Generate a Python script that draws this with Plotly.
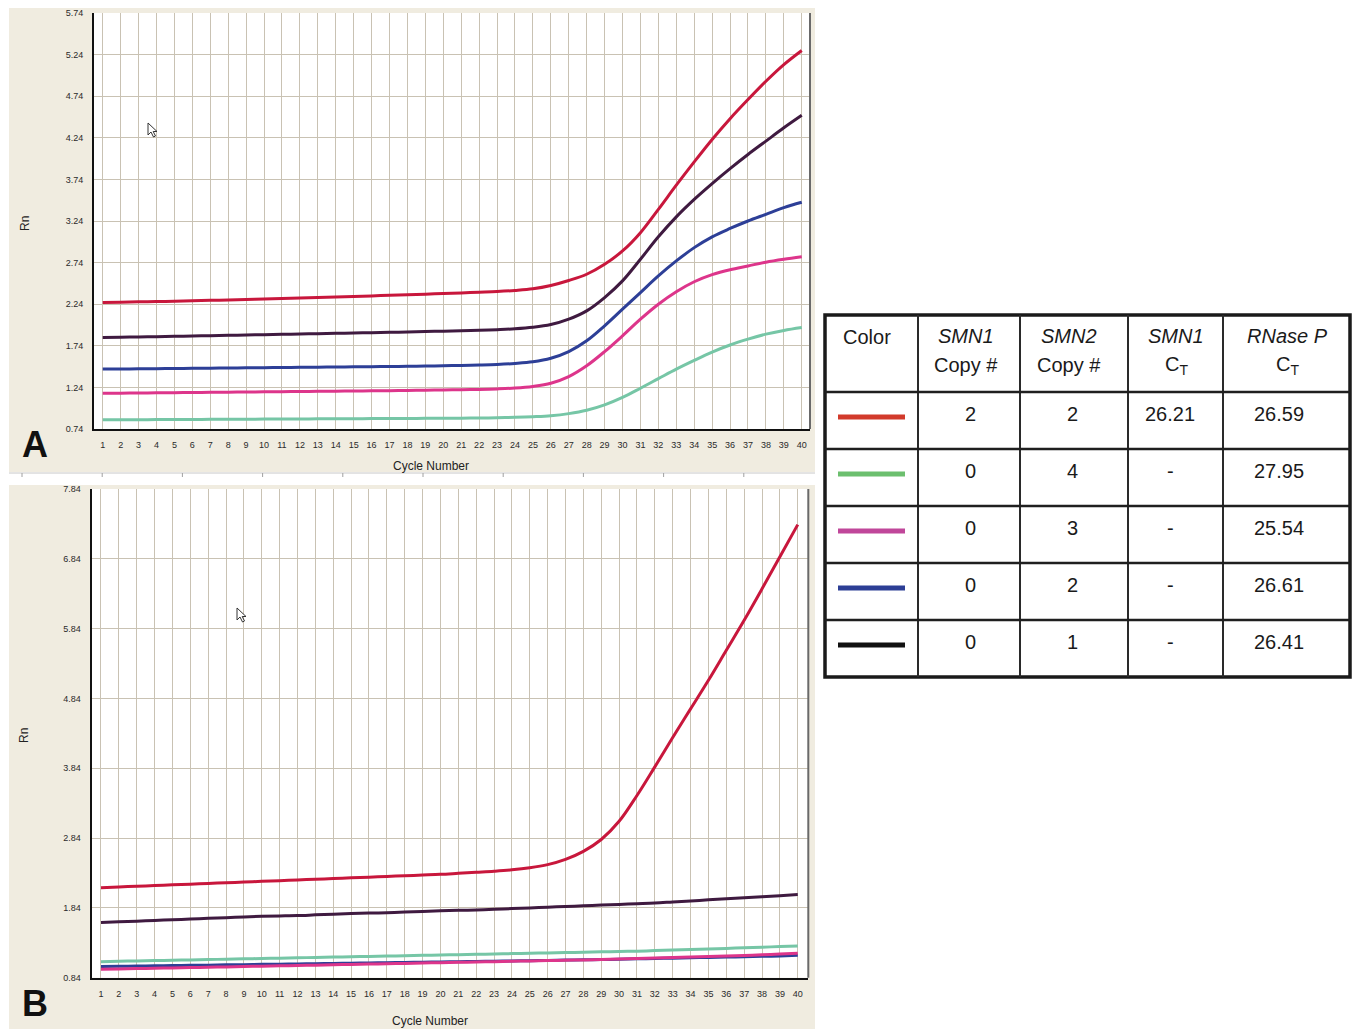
import plotly.graph_objects as go

W, H = 1355, 1029

cycles = list(range(1, 41))
cycle_labels = [str(c) for c in cycles]

# Panel A: SMN1 (2 copies) + SMN2 copy-number samples, Rn vs cycle
a_red = [2.26, 2.264, 2.268, 2.272, 2.276, 2.281, 2.286, 2.291, 2.296, 2.302,
         2.308, 2.314, 2.320, 2.326, 2.333, 2.340, 2.347, 2.354, 2.361, 2.368,
         2.376, 2.384, 2.392, 2.405, 2.425, 2.465, 2.525, 2.60, 2.72, 2.88,
         3.10, 3.38, 3.67, 3.95, 4.22, 4.47, 4.70, 4.92, 5.12, 5.29]
a_purple = [1.84, 1.843, 1.846, 1.850, 1.854, 1.858, 1.862, 1.866, 1.870, 1.874,
            1.878, 1.882, 1.886, 1.890, 1.894, 1.898, 1.902, 1.906, 1.911, 1.916,
            1.921, 1.927, 1.934, 1.944, 1.962, 1.995, 2.06, 2.16, 2.32, 2.52,
            2.78, 3.05, 3.29, 3.50, 3.69, 3.87, 4.04, 4.20, 4.36, 4.51]
a_blue = [1.46, 1.461, 1.463, 1.465, 1.467, 1.469, 1.471, 1.473, 1.475, 1.477,
          1.479, 1.481, 1.483, 1.485, 1.487, 1.489, 1.491, 1.494, 1.497, 1.500,
          1.504, 1.509, 1.516, 1.528, 1.548, 1.59, 1.67, 1.80, 1.98, 2.18,
          2.38, 2.58, 2.76, 2.92, 3.05, 3.15, 3.24, 3.32, 3.40, 3.465]
a_pink = [1.17, 1.171, 1.173, 1.175, 1.177, 1.179, 1.181, 1.183, 1.185, 1.187,
          1.189, 1.191, 1.193, 1.195, 1.197, 1.199, 1.201, 1.203, 1.206, 1.209,
          1.212, 1.216, 1.222, 1.232, 1.252, 1.29, 1.37, 1.50, 1.67, 1.86,
          2.06, 2.24, 2.39, 2.51, 2.595, 2.655, 2.70, 2.745, 2.78, 2.81]
a_green = [0.85, 0.851, 0.852, 0.853, 0.854, 0.855, 0.856, 0.857, 0.858, 0.859,
           0.860, 0.861, 0.862, 0.863, 0.864, 0.865, 0.866, 0.867, 0.868, 0.869,
           0.870, 0.872, 0.875, 0.880, 0.888, 0.90, 0.925, 0.965, 1.03, 1.12,
           1.23, 1.345, 1.46, 1.565, 1.665, 1.75, 1.82, 1.88, 1.925, 1.96]

# Panel B: SMN1-only amplification
b_red = [2.13, 2.14, 2.15, 2.16, 2.17, 2.18, 2.19, 2.20, 2.21, 2.22,
         2.23, 2.24, 2.25, 2.26, 2.27, 2.28, 2.29, 2.30, 2.31, 2.32,
         2.335, 2.35, 2.365, 2.385, 2.415, 2.46, 2.535, 2.65, 2.82, 3.08,
         3.45, 3.86, 4.28, 4.69, 5.10, 5.53, 5.96, 6.41, 6.87, 7.33]
b_purple = [1.63, 1.64, 1.65, 1.66, 1.67, 1.68, 1.69, 1.70, 1.71, 1.72,
            1.725, 1.73, 1.74, 1.75, 1.76, 1.765, 1.77, 1.78, 1.79, 1.80,
            1.805, 1.81, 1.82, 1.83, 1.84, 1.85, 1.86, 1.87, 1.88, 1.89,
            1.90, 1.91, 1.925, 1.94, 1.955, 1.97, 1.985, 2.00, 2.015, 2.03]
b_green = [1.07, 1.075, 1.08, 1.085, 1.09, 1.095, 1.10, 1.105, 1.11, 1.115,
           1.12, 1.125, 1.13, 1.135, 1.14, 1.145, 1.15, 1.155, 1.16, 1.165,
           1.17, 1.175, 1.18, 1.185, 1.19, 1.195, 1.20, 1.205, 1.21, 1.215,
           1.22, 1.228, 1.236, 1.244, 1.252, 1.26, 1.268, 1.277, 1.286, 1.295]
b_blue = [1.00, 1.003, 1.006, 1.01, 1.013, 1.017, 1.02, 1.024, 1.027, 1.031,
          1.034, 1.038, 1.041, 1.045, 1.048, 1.052, 1.055, 1.059, 1.062, 1.066,
          1.069, 1.073, 1.076, 1.08, 1.084, 1.088, 1.092, 1.096, 1.10, 1.105,
          1.11, 1.115, 1.12, 1.125, 1.13, 1.135, 1.14, 1.146, 1.152, 1.16]
b_pink = [0.96, 0.965, 0.97, 0.975, 0.98, 0.985, 0.99, 0.995, 1.00, 1.005,
          1.01, 1.015, 1.02, 1.025, 1.03, 1.035, 1.04, 1.045, 1.05, 1.055,
          1.06, 1.065, 1.07, 1.075, 1.08, 1.085, 1.09, 1.095, 1.10, 1.107,
          1.114, 1.121, 1.128, 1.135, 1.142, 1.150, 1.158, 1.168, 1.18, 1.19]

a_yticks = [0.74, 1.24, 1.74, 2.24, 2.74, 3.24, 3.74, 4.24, 4.74, 5.24, 5.74]
b_yticks = [0.84, 1.84, 2.84, 3.84, 4.84, 5.84, 6.84, 7.84]

curve_colors = {"red": "#c8173c", "purple": "#3f1a40", "blue": "#2d3f97",
                "pink": "#dd358b", "green": "#76c6a6"}

# Summary table
col_headers = [("Color", None), ("<i>SMN1</i>", "Copy #"), ("<i>SMN2</i>", "Copy #"),
               ("<i>SMN1</i>", "C<sub>T</sub>"), ("<i>RNase P</i>", "C<sub>T</sub>")]
swatch_colors = ["#d23a2b", "#6cbf6e", "#c0479a", "#2c3e95", "#111111"]
smn1_copy = ["2", "0", "0", "0", "0"]
smn2_copy = ["2", "4", "3", "2", "1"]
smn1_ct = ["26.21", "-", "-", "-", "-"]
rnasep_ct = ["26.59", "27.95", "25.54", "26.61", "26.41"]


def px(x):
    return x / W


def py(y):
    return 1 - y / H


fig = go.Figure()

panel_a = [(a_green, "green"), (a_pink, "pink"), (a_blue, "blue"),
           (a_purple, "purple"), (a_red, "red")]
panel_b = [(b_green, "green"), (b_blue, "blue"), (b_pink, "pink"),
           (b_purple, "purple"), (b_red, "red")]

for vals, key in panel_a:
    fig.add_trace(go.Scatter(x=cycles, y=vals, mode="lines", xaxis="x", yaxis="y",
                             line=dict(color=curve_colors[key], width=3, shape="spline",
                                       smoothing=1.0),
                             showlegend=False, hoverinfo="skip"))
for vals, key in panel_b:
    fig.add_trace(go.Scatter(x=cycles, y=vals, mode="lines", xaxis="x2", yaxis="y2",
                             line=dict(color=curve_colors[key], width=3, shape="spline",
                                       smoothing=1.0),
                             showlegend=False, hoverinfo="skip"))

grid = "#c9c2b3"
tick_font = dict(family="Liberation Sans, Arial, sans-serif", size=9, color="#2a2a2a")


def xaxis(domain, rng, anchor):
    return dict(domain=domain, range=rng, anchor=anchor, tickvals=cycles,
                ticktext=cycle_labels, showgrid=True, gridcolor=grid, gridwidth=1,
                zeroline=False, showline=True, linecolor="#111", linewidth=2,
                ticks="", tickfont=tick_font, ticklabelstandoff=6, fixedrange=True,
                automargin=False)


def yaxis(domain, rng, anchor, tv):
    return dict(domain=domain, range=rng, anchor=anchor, tickvals=tv,
                ticktext=[f"{v:.2f}" for v in tv], showgrid=True, gridcolor=grid,
                gridwidth=1, zeroline=False, showline=True, linecolor="#111",
                linewidth=2, ticks="", tickfont=tick_font, ticklabelstandoff=7,
                fixedrange=True, automargin=False)


shapes = []
# beige panel backgrounds
shapes.append(dict(type="rect", xref="paper", yref="paper", layer="below",
                   x0=px(9), x1=px(815), y0=py(472), y1=py(8),
                   fillcolor="#f0ece0", line=dict(width=0)))
shapes.append(dict(type="rect", xref="paper", yref="paper", layer="below",
                   x0=px(9), x1=px(815), y0=py(1029), y1=py(485),
                   fillcolor="#f0ece0", line=dict(width=0)))
# plot area white fills
shapes.append(dict(type="rect", xref="paper", yref="paper", layer="below",
                   x0=px(94), x1=px(810), y0=py(429), y1=py(13),
                   fillcolor="white", line=dict(width=0)))
shapes.append(dict(type="rect", xref="paper", yref="paper", layer="below",
                   x0=px(91.7), x1=px(808.3), y0=py(977.7), y1=py(489),
                   fillcolor="white", line=dict(width=0)))
# right borders of plot areas
shapes.append(dict(type="line", xref="paper", yref="paper", x0=px(810), x1=px(810),
                   y0=py(429), y1=py(13), line=dict(color="#6a6a6a", width=2)))
shapes.append(dict(type="line", xref="paper", yref="paper", x0=px(808.3), x1=px(808.3),
                   y0=py(977.7), y1=py(489), line=dict(color="#6a6a6a", width=2)))
# ruler strip between the two panels
shapes.append(dict(type="line", xref="paper", yref="paper", x0=px(9), x1=px(815),
                   y0=py(473), y1=py(473), line=dict(color="#c8c8c8", width=1)))
for k in range(10):
    xx = 22 + 80.2 * k
    shapes.append(dict(type="line", xref="paper", yref="paper", x0=px(xx), x1=px(xx),
                       y0=py(473), y1=py(477), line=dict(color="#a0a0a0", width=1)))


# mouse pointer glyphs
def pointer(tx, ty):
    pts = [(0, 0), (0, 12), (3, 9), (5.5, 14), (7.5, 13), (5.2, 8.5), (9, 8.5)]
    d = "M " + " L ".join(f"{px(tx + a):.5f},{py(ty + b):.5f}" for a, b in pts) + " Z"
    return dict(type="path", xref="paper", yref="paper", path=d,
                fillcolor="white", line=dict(color="#333", width=1))


shapes.append(pointer(148, 123))
shapes.append(pointer(237, 608))

# table grid
tx0, tx1 = 825, 1350
col_edges = [825, 918, 1020, 1128, 1223, 1350]
row_edges = [315, 392, 449, 506, 563, 620, 677]
shapes.append(dict(type="rect", xref="paper", yref="paper", x0=px(tx0), x1=px(tx1),
                   y0=py(row_edges[-1]), y1=py(row_edges[0]), fillcolor="white",
                   line=dict(color="#1a1a1a", width=3.5)))
for xe in col_edges[1:-1]:
    shapes.append(dict(type="line", xref="paper", yref="paper", x0=px(xe), x1=px(xe),
                       y0=py(row_edges[-1]), y1=py(row_edges[0]),
                       line=dict(color="#2a2a2a", width=2)))
for ye in row_edges[1:-1]:
    shapes.append(dict(type="line", xref="paper", yref="paper", x0=px(tx0), x1=px(tx1),
                       y0=py(ye), y1=py(ye), line=dict(color="#1f1f1f", width=2.5)))
for i, c in enumerate(swatch_colors):
    yy = row_edges[i + 1] + 25
    shapes.append(dict(type="line", xref="paper", yref="paper", x0=px(838), x1=px(905),
                       y0=py(yy), y1=py(yy), line=dict(color=c, width=5)))

ann = []
lab_font = dict(family="Liberation Sans, Arial, sans-serif", size=12, color="#222")


def text(x, y, s, font, angle=0):
    ann.append(dict(x=px(x), y=py(y), xref="paper", yref="paper", text=s,
                    showarrow=False, xanchor="center", yanchor="middle",
                    font=font, textangle=angle))


text(25, 224, "Rn", lab_font, -90)
text(24, 736, "Rn", lab_font, -90)
text(431, 466, "Cycle Number", lab_font)
text(430, 1021, "Cycle Number", lab_font)
big = dict(family="Liberation Sans, Arial, sans-serif", size=36, color="#111")
text(35, 445, "<b>A</b>", big)
text(35, 1003, "<b>B</b>", big)

tfont = dict(family="Liberation Sans, Arial, sans-serif", size=20, color="#1a1a1a")
head_x = [867, 966, 1069, 1176, 1287]
for (l1, l2), hx in zip(col_headers, head_x):
    if l2 is None:
        text(hx, 337, l1, tfont)
    else:
        text(hx, 336, l1, tfont)
        text(hx, 365, l2, tfont)

val_x = [970, 1072, 1170, 1279]
for i in range(5):
    yy = row_edges[i + 1] + 22
    for col, xx in zip([smn1_copy, smn2_copy, smn1_ct, rnasep_ct], val_x):
        text(xx, yy, col[i], tfont)

fig.update_layout(
    width=W, height=H, margin=dict(l=0, r=0, t=0, b=0, autoexpand=False),
    paper_bgcolor="white", plot_bgcolor="rgba(0,0,0,0)",
    xaxis=xaxis([px(94), px(810)], [0.514, 40.46], "y"),
    yaxis=yaxis([py(429), py(13)], [0.74, 5.74], "x", a_yticks),
    xaxis2=xaxis([px(91.7), px(808.3)], [0.48, 40.59], "y2"),
    yaxis2=yaxis([py(977.7), py(489)], [0.84, 7.84], "x2", b_yticks),
    shapes=shapes, annotations=ann, showlegend=False,
)

fig.write_html("out.html")
